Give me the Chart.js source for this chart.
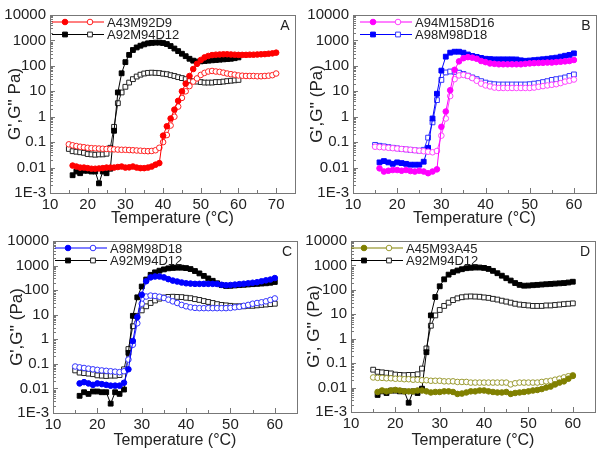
<!DOCTYPE html>
<html>
<head>
<meta charset="utf-8">
<script src="https://cdn.jsdelivr.net/npm/chart.js@4.4.0/dist/chart.umd.min.js"></script>
<style>
  html, body { margin: 0; padding: 0; background: #fff; }
  #wrap { position: relative; width: 604px; height: 456px; }
  canvas { position: absolute; }
</style>
</head>
<body>
<div id="wrap">
  <canvas id="chartA" width="302" height="228" style="left:0;top:0"></canvas>
  <canvas id="chartB" width="302" height="228" style="left:302px;top:0"></canvas>
  <canvas id="chartC" width="302" height="228" style="left:0;top:228px"></canvas>
  <canvas id="chartD" width="302" height="228" style="left:302px;top:228px"></canvas>
</div>
<script>
// temperatures (°C)
const temps15to60 = [15,16,17,18,19,20,21,22,23,24,25,26,27,28,29,30,31,32,33,34,35,36,37,38,39,40,41,42,43,44,45,46,47,48,49,50,51,52,53,54,55,56,57,58,59,60];
const temps16to60 = [16,17,18,19,20,21,22,23,24,25,26,27,28,29,30,31,32,33,34,35,36,37,38,39,40,41,42,43,44,45,46,47,48,49,50,51,52,53,54,55,56,57,58,59,60];
const temps15to70 = [15,16,17,18,19,20,21,22,23,24,25,26,27,28,29,30,31,32,33,34,35,36,37,38,39,40,41,42,43,44,45,46,47,48,49,50,51,52,53,54,55,56,57,58,59,60,61,62,63,64,65,66,67,68,69,70];
const temps16to70 = [16,17,18,19,20,21,22,23,24,25,26,27,28,29,30,31,32,33,34,35,36,37,38,39,40,41,42,43,44,45,46,47,48,49,50,51,52,53,54,55,56,57,58,59,60,61,62,63,64,65,66,67,68,69,70];

// A43M92D9 : G' (16-70), G'' (15-70)
const a43Storage = [0.012,0.011,0.010,0.010,0.0095,0.009,0.009,0.0092,0.0095,0.010,0.010,0.010,0.0105,0.011,0.010,0.0102,0.011,0.010,0.0095,0.0095,0.010,0.011,0.013,0.015,0.18,0.42,0.85,1.9,4.2,10,20,40,75,120,170,215,245,265,275,280,285,285,280,275,270,270,270,275,275,280,285,290,300,310,330];
const a43Loss = [0.082,0.075,0.070,0.066,0.063,0.060,0.058,0.057,0.056,0.055,0.054,0.053,0.052,0.051,0.050,0.050,0.049,0.048,0.047,0.046,0.045,0.044,0.045,0.048,0.06,0.1,0.19,0.45,1.0,2.5,5.5,10,16,24,32,44,53,60,63,60,58,54,50,47,45,42,41,40,40,40,39,39,40,41,43,50];

// A92M94D12 : G' (16-60), G'' (15-60)
const a92Storage = [0.005,0.007,0.006,0.0075,0.0075,0.007,0.007,0.0024,0.007,0.006,0.009,0.28,9,51,140,270,420,530,620,700,770,800,820,820,790,720,600,480,380,300,240,190,160,148,150,155,160,165,170,175,180,185,190,200,215];
const a92Loss = [0.054,0.044,0.042,0.040,0.038,0.034,0.033,0.032,0.033,0.033,0.035,0.06,0.4,3.4,9,15,22,30,38,45,50,53,54,53,52,49,47,43,40,36,33,30,27,25,24,23,22,22,22,23,23,24,25,26,27,28];

// A94M158D16 : G' (16-60), G'' (15-60)
const a94Storage = [0.0093,0.007,0.0075,0.008,0.008,0.0075,0.008,0.0073,0.007,0.0075,0.007,0.006,0.007,0.0085,0.4,1.6,11,70,150,200,220,210,190,155,140,125,120,115,115,115,115,115,115,120,125,128,130,132,135,135,140,145,150,155,170];
const a94Loss = [0.066,0.064,0.062,0.060,0.058,0.056,0.054,0.052,0.050,0.048,0.046,0.044,0.042,0.040,0.045,0.18,0.85,6.5,30,42,44,40,33,26,20,17,15.5,14,13.5,13.5,13.5,13.5,13.5,13.5,13.5,13.5,14,15,16,17,18,19,21,24,26,29];

// A98M98D18 : G' (16-60), G'' (15-60)
const a98Storage = [0.016,0.018,0.016,0.014,0.016,0.015,0.014,0.013,0.013,0.013,0.017,0.06,0.85,8,65,230,330,360,360,330,280,245,225,205,190,185,180,180,180,180,180,178,165,158,162,168,175,182,190,200,210,230,250,270,310];
const a98Loss = [0.078,0.072,0.068,0.064,0.060,0.057,0.054,0.052,0.050,0.048,0.046,0.05,0.15,0.6,4.5,28,55,60,58,54,48,41,35,30,25,22,20,19,18.5,18.5,18.5,18.5,18.5,18.5,18.5,19,20,21,23,25,28,30,32,35,40,46];

// A45M93A45 : G' (16-60), G'' (15-60)
const a45Storage = [0.0066,0.0076,0.007,0.0076,0.008,0.0076,0.007,0.007,0.007,0.0076,0.0076,0.007,0.0063,0.0066,0.0066,0.007,0.007,0.0066,0.0055,0.0057,0.0063,0.007,0.007,0.0076,0.0076,0.007,0.0066,0.0063,0.0063,0.0066,0.0055,0.006,0.0063,0.0066,0.007,0.0076,0.008,0.0087,0.010,0.011,0.0135,0.016,0.018,0.023,0.03];
const a45Loss = [0.026,0.025,0.025,0.024,0.024,0.023,0.023,0.022,0.022,0.021,0.021,0.020,0.020,0.019,0.019,0.019,0.018,0.018,0.018,0.017,0.017,0.017,0.016,0.016,0.016,0.016,0.016,0.016,0.016,0.016,0.016,0.0135,0.015,0.016,0.016,0.016,0.016,0.016,0.017,0.018,0.019,0.021,0.023,0.026,0.029,0.032];

const yTickValues = [0.001, 0.01, 0.1, 1, 10, 100, 1000, 10000];
const yTickLabels = ['1E-3', '0.01', '0.1', '1', '10', '100', '1000', '10000'];
const xTicksWide = [10, 20, 30, 40, 50, 60, 70];
const xTicksNarrow = [10, 20, 30, 40, 50, 60];

const FONT = '"Liberation Sans", Arial, sans-serif';

function series(label, temps, vals, color, style, open) {
  return {
    label: label,
    data: temps.map((t, i) => ({ x: t, y: vals[i] })),
    borderColor: color,
    borderWidth: 1,
    backgroundColor: open ? '#fff' : color,
    pointStyle: style,
    pointRadius: style === 'rect' ? 3.4 : 2.8,
    pointBackgroundColor: open ? '#fff' : color,
    pointBorderColor: color,
    pointBorderWidth: 1,
    tension: 0,
    fill: false
  };
}

// frame, inside ticks, two-marker legend and panel letter
const deco = {
  id: 'panelDeco',
  afterDatasetsDraw(chart, args, opts) {
    const { ctx, chartArea: a } = chart;
    const x = chart.scales.x, y = chart.scales.y;
    ctx.save();
    ctx.strokeStyle = '#777';
    ctx.lineWidth = 1;
    ctx.strokeRect(a.left + 0.5, a.top + 0.5, a.right - a.left, a.bottom - a.top);

    for (let v = x.min; v <= x.max; v += 5) {
      const px = Math.round(x.getPixelForValue(v)) + 0.5;
      const len = v % 10 === 0 ? 5 : 3;
      ctx.beginPath();
      ctx.moveTo(px, a.bottom);
      ctx.lineTo(px, a.bottom - len);
      ctx.stroke();
    }
    for (let d = -3; d <= 4; d++) {
      for (let m = 1; m < 10; m++) {
        const v = m * Math.pow(10, d);
        if (v > y.max * 1.001) break;
        const py = Math.round(y.getPixelForValue(v)) + 0.5;
        const len = m === 1 ? 5 : 3;
        ctx.beginPath();
        ctx.moveTo(a.left, py);
        ctx.lineTo(a.left + len, py);
        ctx.stroke();
      }
    }

    const ds = chart.data.datasets;
    ctx.font = '13px ' + FONT;
    ctx.textBaseline = 'middle';
    ctx.textAlign = 'left';
    opts.pairs.forEach((pair, row) => {
      const f = ds[pair[0]], o = ds[pair[1]];
      const ly = a.top + 7 + row * 12.5;
      const lx = a.left + opts.dx;
      ctx.strokeStyle = f.borderColor;
      ctx.beginPath();
      ctx.moveTo(lx, ly);
      ctx.lineTo(lx + 52, ly);
      ctx.stroke();
      ctx.fillStyle = f.borderColor;
      Chart.helpers.drawPoint(ctx, { pointStyle: f.pointStyle, radius: f.pointRadius, borderWidth: 1, rotation: 0 }, lx + 13, ly);
      ctx.fillStyle = '#fff';
      ctx.strokeStyle = o.borderColor;
      Chart.helpers.drawPoint(ctx, { pointStyle: o.pointStyle, radius: o.pointRadius, borderWidth: 1, rotation: 0 }, lx + 38, ly);
      ctx.fillStyle = '#222';
      ctx.fillText(f.label, lx + 55, ly + 1);
    });

    ctx.font = '14px ' + FONT;
    ctx.textAlign = 'center';
    ctx.fillStyle = '#222';
    ctx.fillText(opts.letter, a.right - 10, a.top + 11);
    ctx.restore();
  }
};

function panel(id, p) {
  new Chart(document.getElementById(id), {
    type: 'line',
    data: { datasets: p.datasets },
    options: {
      responsive: false,
      animation: false,
      devicePixelRatio: 1,
      layout: { padding: { left: 0, top: p.top, right: p.right, bottom: 0 } },
      plugins: {
        legend: { display: false },
        tooltip: { enabled: false },
        panelDeco: { pairs: p.pairs, dx: p.legendDx, letter: p.letter }
      },
      scales: {
        x: {
          type: 'linear',
          min: 10,
          max: p.xMax,
          afterBuildTicks: s => { s.ticks = p.xTicks.map(v => ({ value: v })); },
          afterFit: s => { s.height = p.xHeight; },
          grid: { display: false, drawTicks: false },
          border: { display: false },
          ticks: { font: { family: FONT, size: 15 }, color: '#222', padding: 3, maxRotation: 0, autoSkip: false },
          title: { display: true, text: 'Temperature (°C)', font: { family: FONT, size: 16, weight: 'normal' }, color: '#222', padding: { top: 0, bottom: p.xTitlePad } }
        },
        y: {
          type: 'logarithmic',
          min: 0.001,
          max: 10000,
          afterBuildTicks: s => { s.ticks = yTickValues.map(v => ({ value: v })); },
          afterFit: s => { s.width = p.yWidth; },
          grid: { display: false, drawTicks: false },
          border: { display: false },
          ticks: {
            font: { family: FONT, size: 15 }, color: '#222', padding: 4, autoSkip: false,
            callback: v => yTickLabels[yTickValues.indexOf(v)]
          },
          title: { display: true, text: p.yTitle, font: { family: FONT, size: 17, weight: 'normal' }, color: '#222', padding: { top: p.yTitlePad, bottom: 0 } }
        }
      }
    },
    plugins: [deco]
  });
}

const RED = '#ff0000', BLACK = '#000000', BLUE = '#0000ff', MAGENTA = '#ff00ff', OLIVE = '#808000';

panel('chartA', {
  datasets: [
    series('A43M92D9', temps16to70, a43Storage, RED, 'circle', false),
    series('A43M92D9', temps15to70, a43Loss, '#ff2020', 'circle', true),
    series('A92M94D12', temps16to60, a92Storage, BLACK, 'rect', false),
    series('A92M94D12', temps15to60, a92Loss, '#222', 'rect', true)
  ],
  pairs: [[0, 1], [2, 3]], legendDx: 2, letter: 'A',
  xMax: 75, xTicks: xTicksWide,
  top: 15, right: 7, yWidth: 50, xHeight: 35, xTitlePad: 0, yTitlePad: 5,
  yTitle: "G',G'' Pa)"
});

panel('chartB', {
  datasets: [
    series('A94M158D16', temps16to60, a94Storage, MAGENTA, 'circle', false),
    series('A94M158D16', temps15to60, a94Loss, '#ff44ff', 'circle', true),
    series('A98M98D18', temps16to60, a98Storage, BLUE, 'rect', false),
    series('A98M98D18', temps15to60, a98Loss, '#3333ff', 'rect', true)
  ],
  pairs: [[0, 1], [2, 3]], legendDx: 7, letter: 'B',
  xMax: 65, xTicks: xTicksNarrow,
  top: 15, right: 8, yWidth: 51, xHeight: 35, xTitlePad: 0, yTitlePad: 5,
  yTitle: "G',G'' (Pa)"
});

panel('chartC', {
  datasets: [
    series('A98M98D18', temps16to60, a98Storage, BLUE, 'circle', false),
    series('A98M98D18', temps15to60, a98Loss, '#3333ff', 'circle', true),
    series('A92M94D12', temps16to60, a92Storage, BLACK, 'rect', false),
    series('A92M94D12', temps15to60, a92Loss, '#222', 'rect', true)
  ],
  pairs: [[0, 1], [2, 3]], legendDx: 2, letter: 'C',
  xMax: 65, xTicks: xTicksNarrow,
  top: 5, right: 3, yWidth: 53, xHeight: 43, xTitlePad: 6, yTitlePad: 7,
  yTitle: "G',G'' (Pa)"
});

panel('chartD', {
  datasets: [
    series('A45M93A45', temps16to60, a45Storage, OLIVE, 'circle', false),
    series('A45M93A45', temps15to60, a45Loss, '#9a9a30', 'circle', true),
    series('A92M94D12', temps16to60, a92Storage, BLACK, 'rect', false),
    series('A92M94D12', temps15to60, a92Loss, '#222', 'rect', true)
  ],
  pairs: [[0, 1], [2, 3]], legendDx: 0, letter: 'D',
  xMax: 65, xTicks: xTicksNarrow,
  top: 5, right: 9, yWidth: 49, xHeight: 44, xTitlePad: 6, yTitlePad: 2,
  yTitle: "G', G'' (Pa)"
});
</script>
</body>
</html>
